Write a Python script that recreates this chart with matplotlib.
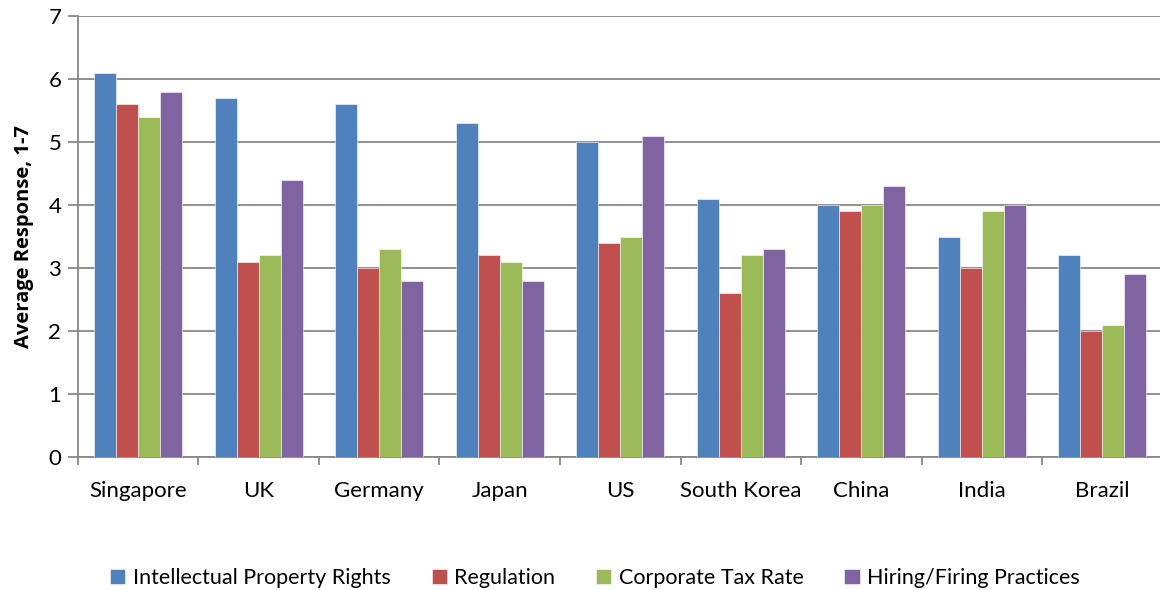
import numpy as np
import matplotlib.pyplot as plt

countries = ['Singapore', 'UK', 'Germany', 'Japan', 'US', 'South Korea', 'China', 'India', 'Brazil']
ip_rights = [6.1, 5.7, 5.6, 5.3, 5.0, 4.1, 4.0, 3.5, 3.2]
regulation = [5.6, 3.1, 3.0, 3.2, 3.4, 2.6, 3.9, 3.0, 2.0]
corp_tax = [5.4, 3.2, 3.3, 3.1, 3.5, 3.2, 4.0, 3.9, 2.1]
hiring = [5.8, 4.4, 2.8, 2.8, 5.1, 3.3, 4.3, 4.0, 2.9]

series = [
    ('Intellectual Property Rights', ip_rights, '#4F81BD'),
    ('Regulation', regulation, '#C0504D'),
    ('Corporate Tax Rate', corp_tax, '#9BBB59'),
    ('Hiring/Firing Practices', hiring, '#8064A2'),
]

plt.rcParams['font.family'] = ['Lato', 'DejaVu Sans']

fig = plt.figure(figsize=(11.6, 5.9), dpi=100)
ax = fig.add_axes([0.0672, 0.2254, 0.935, 0.7475])

x = np.arange(len(countries))
w = 1 / 5.5
for i, (name, vals, col) in enumerate(series):
    ax.bar(x + (i - 1.5) * w, vals, w, color=col, label=name,
           edgecolor='white', linewidth=0.4, zorder=3)

ax.set_xlim(-0.5, len(countries) - 0.5)
ax.set_ylim(0, 7)
ax.set_yticks(range(0, 8))
ax.set_xticks(x)
ax.set_xticklabels(countries)
ax.set_xticks(np.arange(-0.5, len(countries), 1), minor=True)
ax.tick_params(axis='x', which='major', length=0, pad=17, labelsize=16)
ax.tick_params(axis='x', which='minor', length=6, width=1.3, color='#888888')
ax.tick_params(axis='y', length=7, width=1.3, color='#888888', labelsize=16, pad=5)

ax.grid(axis='y', color='#888888', linewidth=1.3, zorder=0)
for s in ['top', 'right']:
    ax.spines[s].set_visible(False)
for s in ['left', 'bottom']:
    ax.spines[s].set_color('#888888')
    ax.spines[s].set_linewidth(1.3)

ax.set_ylabel('Average Response, 1-7', fontsize=14.5, fontweight='bold', labelpad=10,
              family=['Open Sans', 'DejaVu Sans'])

fig.legend(loc='lower center', bbox_to_anchor=(0.513, -0.03), ncol=4, frameon=False,
           fontsize=15.5, handlelength=0.7, handleheight=0.7, handletextpad=0.35,
           columnspacing=1.9)

fig.savefig('out.png', dpi=100)
